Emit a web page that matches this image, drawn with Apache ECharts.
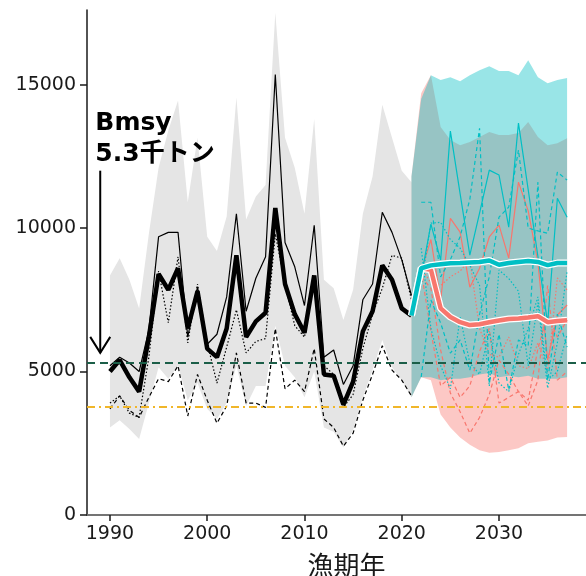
<!DOCTYPE html>
<html>
<head>
<meta charset="utf-8">
<script src="https://cdn.jsdelivr.net/npm/echarts@6/dist/echarts.min.js"></script>
<style>
  html, body { margin: 0; padding: 0; background: #fff; }
  #chart { width: 586px; height: 576px; }
</style>
</head>
<body>
<div id="chart"></div>
<script>
// years
var histYears = [1990, 1991, 1992, 1993, 1994, 1995, 1996, 1997, 1998, 1999, 2000, 2001, 2002, 2003, 2004, 2005,
  2006, 2007, 2008, 2009, 2010, 2011, 2012, 2013, 2014, 2015, 2016, 2017, 2018, 2019, 2020, 2021];
var futYears = [2021, 2022, 2023, 2024, 2025, 2026, 2027, 2028, 2029, 2030, 2031, 2032, 2033, 2034, 2035, 2036, 2037];

var xTicks = [1990, 2000, 2010, 2020, 2030];
var yTicks = [0, 5000, 10000, 15000];

// historical biomass (t)
var bioMedian = [5000, 5400, 4800, 4300, 6200, 8400, 7850, 8600, 6500, 7800, 5800, 5500, 6500, 9050, 6200, 6750,
  7050, 10700, 8050, 7000, 6350, 8350, 4900, 4850, 3850, 4650, 6400, 7100, 8700, 8200, 7200, 6950];
var bioThin = [5200, 5500, 5300, 5000, 6450, 9700, 9850, 9850, 6200, 7950, 5950, 6300, 7600, 10500, 7100, 8250,
  9000, 15350, 9500, 8650, 7300, 10100, 5500, 5750, 4550, 5200, 7500, 8050, 10550, 9850, 8900, 7650];
var bioDotted = [3900, 4150, 3550, 3400, 5500, 8500, 6700, 9000, 6000, 8050, 6000, 4600, 5850, 7150, 5650, 6050,
  6150, 9800, 8050, 6600, 6200, 8200, 5200, 4900, 3750, 4200, 5800, 7000, 7900, 9050, 8950, 7500];
var bioDashed = [3700, 4150, 3650, 3400, 4100, 4750, 4650, 5200, 3450, 4900, 4000, 3200, 3800, 5650, 3900, 3900,
  3750, 6500, 4400, 4700, 4300, 5800, 3350, 3050, 2400, 2850, 4000, 4900, 5900, 5050, 4700, 4150];
var histUpper = [8350, 8950, 8200, 7200, 9800, 12100, 13400, 14450, 10900, 13150, 9700, 9200, 10400, 14550, 10300, 11100,
  11500, 17500, 13150, 12100, 10500, 13800, 8200, 7900, 6800, 7850, 10500, 11800, 14300, 13150, 12000, 11600];
var histLower = [3050, 3300, 3000, 2650, 3900, 5150, 4750, 5200, 4000, 4600, 3700, 3350, 3900, 5200, 3800, 4500,
  4500, 6600, 5200, 4800, 4100, 5000, 3050, 2900, 2350, 2950, 4100, 5050, 6100, 5150, 4700, 4100];

// projections (2021-2037)
var tealUpper = [11800, 14500, 15330, 15160, 15260, 15120, 15330, 15500, 15640, 15470, 15470, 15330, 15850, 15260, 15050, 15160, 15230];
var tealLower = [4100, 4800, 4800, 4700, 4750, 4750, 4800, 4900, 4950, 4800, 4850, 4800, 4850, 4750, 4750, 4750, 4800];
var pinkUpper = [11800, 14700, 15330, 13520, 13070, 12890, 13000, 13170, 13350, 13240, 13240, 13310, 13700, 13170, 12890, 12960, 13130];
var pinkLower = [4100, 4800, 4700, 3500, 3050, 2700, 2450, 2260, 2170, 2200, 2260, 2330, 2500, 2550, 2600, 2700, 2720];
var tealMedian = [6950, 8600, 8700, 8740, 8770, 8780, 8800, 8820, 8870, 8720, 8780, 8820, 8850, 8820, 8710, 8780, 8780];
var redMedian = [6950, 8600, 8550, 7200, 6900, 6720, 6620, 6650, 6720, 6780, 6830, 6850, 6880, 6930, 6720, 6760, 6790];

var tealSolid = [null, 8300, 10140, 8880, 13380, 11200, 9060, 10520, 12020, 11850, 10030, 13660, 11340, 9010, 6690, 11040, 10380];
var tealDashA = [null, 10900, 10900, 8300, 8900, 9700, 11000, 13480, 4600, 6300, 4350, 6100, 5880, 11600, 4700, 7000, 5850];
var tealDashB = [null, 4810, 7490, 6690, 5640, 6100, 5050, 7000, 8300, 10380, 10730, 12720, 10000, 9900, 9820, 11950, 11670];
var tealDotA = [null, 8000, 10170, 10200, 9600, 9300, 8700, 8000, 4500, 8540, 8240, 7800, 5200, 7400, 4420, 6000, 8500];
var tealDotB = [null, 9300, 6500, 5200, 4400, 6900, 5300, 4900, 6400, 4600, 4300, 5600, 6500, 7600, 4700, 5000, 6300];
var redSolid = [null, 8500, 9600, 7500, 10340, 9860, 7940, 8600, 9690, 10100, 8950, 11600, 10600, 8800, 5400, 6970, 7320];
var redDashA = [null, 8300, 7900, 5750, 4250, 3600, 2850, 3400, 4200, 5400, 4900, 4300, 4000, 5800, 7000, 6200, 6800];
var redDashB = [null, 8500, 6400, 4500, 4800, 4100, 4500, 5700, 6500, 3900, 4100, 4300, 3800, 4700, 8000, 4700, 5000];
var redDotA = [null, 8600, 8100, 8000, 8300, 8500, 8900, 6500, 5600, 5500, 6200, 5200, 5100, 6000, 5000, 8260, 7840];

var bmsy = 5300;
var blimit = 3770;

var TEAL = '#00BFC4';
var RED = '#F8766D';

function pairs(xs, ys) {
  return xs.map(function (x, i) { return [x, ys[i] == null ? '-' : ys[i]]; });
}

function line(xs, ys, color, width, type) {
  return {
    type: 'line', data: pairs(xs, ys), showSymbol: false, symbol: 'none', silent: true,
    lineStyle: { color: color, width: width, type: type || 'solid', cap: 'butt' }
  };
}

// filled band between lo and hi, one polygon through the axis scales
function band(xs, lo, hi, color, opacity) {
  return {
    type: 'custom', silent: true,
    data: xs.map(function (x, i) { return [x, lo[i], hi[i]]; }),
    encode: { x: 0, y: [1, 2] },
    renderItem: function (params, api) {
      if (params.dataIndex !== 0) return null;
      var pts = [];
      for (var i = 0; i < xs.length; i++) pts.push(api.coord([xs[i], hi[i]]));
      for (var j = xs.length - 1; j >= 0; j--) pts.push(api.coord([xs[j], lo[j]]));
      return { type: 'polygon', shape: { points: pts }, style: { fill: color, opacity: opacity } };
    }
  };
}

var series = [];
series.push(band(histYears, histLower, histUpper, '#E5E5E5', 1));
series.push(band(futYears, pinkLower, pinkUpper, RED, 0.4));
series.push(band(futYears, tealLower, tealUpper, TEAL, 0.4));

// reference lines
series.push({
  type: 'line', data: [], silent: true,
  markLine: {
    silent: true, symbol: ['none', 'none'], label: { show: false },
    data: [
      { yAxis: bmsy, lineStyle: { color: '#1B5E48', width: 2, type: [8, 5] } },
      { yAxis: blimit, lineStyle: { color: '#F0B62A', width: 2, type: [8, 4, 2, 4] } }
    ]
  }
});

// historical lines
series.push(line(histYears, bioDashed, '#000', 1.2, [4, 3]));
series.push(line(histYears, bioDotted, '#000', 1.2, [1.5, 2]));
series.push(line(histYears, bioThin, '#000', 1.2));
series.push(line(histYears, bioMedian, '#000', 4.5));

// projection samples
series.push(line(futYears, redDashA, RED, 1.2, [4, 3]));
series.push(line(futYears, redDashB, RED, 1.2, [4, 3]));
series.push(line(futYears, redDotA, RED, 1.2, [1.5, 2]));
series.push(line(futYears, redSolid, RED, 1.2));
series.push(line(futYears, tealDashA, TEAL, 1.2, [4, 3]));
series.push(line(futYears, tealDashB, TEAL, 1.2, [4, 3]));
series.push(line(futYears, tealDotA, TEAL, 1.2, [1.5, 2]));
series.push(line(futYears, tealDotB, TEAL, 1.2, [1.5, 2]));
series.push(line(futYears, tealSolid, TEAL, 1.2));

// medians with white edge
series.push(line(futYears, redMedian, '#fff', 7));
series.push(line(futYears, redMedian, RED, 4.5));
series.push(line(futYears, tealMedian, '#fff', 7));
series.push(line(futYears, tealMedian, TEAL, 4.5));

var xMin = 1987.64, xMax = 2041;
var plain = function (v) { return String(v); };

var option = {
  animation: false,
  backgroundColor: '#ffffff',
  grid: { left: 87, right: -20, top: 10, bottom: 61, containLabel: false, outerBoundsMode: 'none' },
  xAxis: [{
    type: 'value', min: xMin, max: xMax,
    name: '漁期年', nameLocation: 'middle', nameGap: 37,
    nameTextStyle: { fontSize: 26, color: '#1a1a1a', fontFamily: 'Noto Sans CJK JP' },
    axisLine: { show: true, onZero: false, lineStyle: { color: '#1a1a1a', width: 1.5 } },
    axisTick: { show: true, customValues: xTicks, length: 6, lineStyle: { color: '#1a1a1a', width: 1.5 } },
    axisLabel: { customValues: xTicks, formatter: plain, fontSize: 19, color: '#1a1a1a', margin: 10, fontFamily: 'DejaVu Sans' },
    splitLine: { show: false }
  }, {
    type: 'value', position: 'top', min: xMin, max: xMax,
    axisLine: { show: true, lineStyle: { color: '#808080', width: 1.5 } },
    axisTick: { show: false }, axisLabel: { show: false }, splitLine: { show: false }
  }],
  yAxis: {
    type: 'value', min: 0, max: 17600,
    axisLine: { show: true, lineStyle: { color: '#1a1a1a', width: 1.5 } },
    axisTick: { show: true, customValues: yTicks, length: 7, lineStyle: { color: '#1a1a1a', width: 1.5 } },
    axisLabel: { customValues: yTicks, formatter: plain, fontSize: 19, color: '#1a1a1a', margin: 11, fontFamily: 'DejaVu Sans' },
    splitLine: { show: false }
  },
  series: series
};

var chart = echarts.init(document.getElementById('chart'), null, { renderer: 'canvas' });
chart.setOption(option);

// Bmsy annotation, anchored in data coordinates
var pTop = chart.convertToPixel('grid', [1989, 12000]);
var pTip = chart.convertToPixel('grid', [1989, 5650]);
var pTxt = chart.convertToPixel('grid', [1988.5, 13120]);
chart.setOption({
  graphic: [{
    type: 'polyline', silent: true, z: 100,
    shape: { points: [[pTop[0], pTop[1]], [pTip[0], pTip[1]]] },
    style: { stroke: '#000', lineWidth: 2, fill: null }
  }, {
    type: 'polyline', silent: true, z: 100,
    shape: { points: [[pTip[0] - 10, pTip[1] - 16], [pTip[0], pTip[1]], [pTip[0] + 10, pTip[1] - 16]] },
    style: { stroke: '#000', lineWidth: 2, fill: null }
  }, {
    type: 'text', silent: true, z: 100, x: pTxt[0], y: pTxt[1],
    style: {
      text: 'Bmsy\n5.3千トン', fill: '#000', fontSize: 25, fontWeight: 'bold',
      fontFamily: '"DejaVu Sans", "Noto Sans CJK JP"',
      lineHeight: 31, verticalAlign: 'middle', align: 'left'
    }
  }]
});
</script>
</body>
</html>
